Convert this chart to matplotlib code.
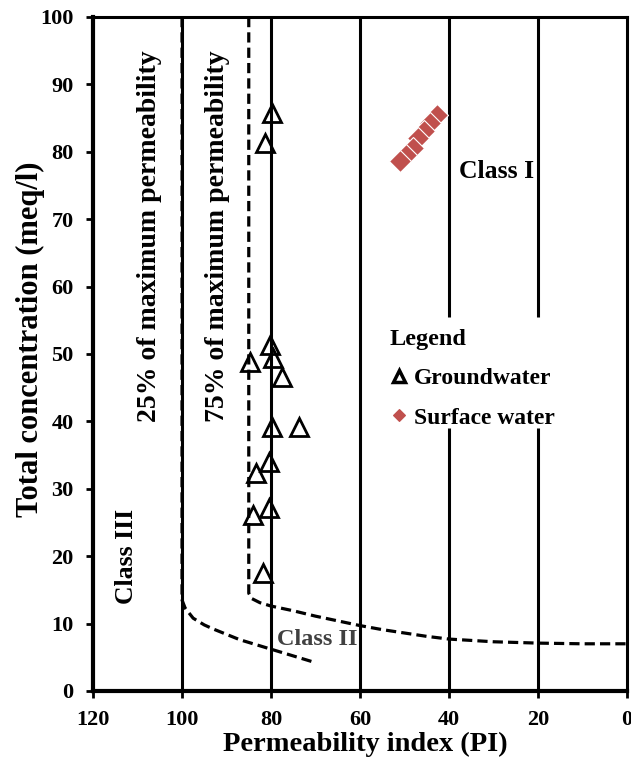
import matplotlib
matplotlib.use('Agg')
import matplotlib.pyplot as plt

plt.rcParams['font.family'] = ['Liberation Serif', 'DejaVu Serif']
plt.rcParams['font.weight'] = 'bold'

# groundwater samples: permeability index (PI) vs total concentration (meq/l)
gw_pi = [79.8, 81.3, 80.2, 84.7, 79.6, 77.5, 79.8, 73.7, 80.4, 83.4, 80.4, 84.0, 81.8]
gw_tc = [85.8, 81.3, 51.3, 48.8, 49.4, 46.6, 39.2, 39.2, 34.0, 32.3, 27.1, 26.1, 17.5]

# surface water samples
sw_pi = [42.8, 44.2, 45.6, 46.9, 48.2, 49.6, 51.0]
sw_tc = [85.4, 84.3, 83.1, 82.0, 80.6, 79.5, 78.6]

# Doneen boundaries: 25% and 75% of maximum permeability
curve25_pi = [100, 100, 99.3, 97.5, 95, 93, 90, 87, 84, 81, 77, 73.5, 70]
curve25_tc = [100, 13.5, 12.3, 10.8, 9.8, 9.2, 8.4, 7.6, 7.0, 6.4, 5.6, 4.9, 4.2]
curve75_pi = [85, 85, 84.3, 82.5, 80, 75, 70, 65, 60, 55, 50, 45, 40, 30, 20, 10, 0]
curve75_tc = [100, 14.5, 13.7, 13.1, 12.6, 11.9, 11.1, 10.4, 9.7, 9.1, 8.6, 8.1, 7.7, 7.3, 7.1, 7.0, 7.0]

# vertical grid segments (broken behind the legend)
grid_x = [100, 80, 60, 40, 40, 20, 20]
grid_lo = [0, 0, 0, 0, 55.5, 0, 55.5]
grid_hi = [100, 100, 100, 39, 100, 39, 100]

RED = '#C0504D'

fig = plt.figure(figsize=(6.31, 7.68), dpi=100)
ax = fig.add_axes([0.1474, 0.1003, 0.8463, 0.8776])

ax.vlines(grid_x, grid_lo, grid_hi, colors='black', linewidth=2.2, zorder=2)
ax.plot(curve25_pi, curve25_tc, color='black', linewidth=2.3, dashes=(3.2, 1.6), zorder=1)
ax.plot(curve75_pi, curve75_tc, color='black', linewidth=2.3, dashes=(3.2, 1.6), zorder=1)

gw, = ax.plot(gw_pi, gw_tc, ls='none', marker='^', ms=13, mfc='none', mec='black',
              mew=2, label='Groundwater', zorder=4)
sw, = ax.plot(sw_pi, sw_tc, ls='none', marker='D', ms=11.5, mfc=RED, mec='white',
              mew=0.8, label='Surface water', zorder=4)

ax.set_xlim(120, 0)
ax.set_ylim(0, 100)
ax.set_xticks(range(0, 121, 20))
ax.set_yticks(range(0, 101, 10))
ax.tick_params(direction='out', length=5, width=2, labelsize=16, pad=9)

for s in ax.spines.values():
    s.set_linewidth(2.2)
ax.spines['left'].set_linewidth(3)
ax.spines['bottom'].set_linewidth(3)

ax.set_xlabel('Permeability index (PI)', fontsize=20.5, fontweight='bold')
ax.xaxis.set_label_coords(0.51, -0.06)
ax.set_ylabel('Total concentration (meq/l)', fontsize=22, fontweight='bold')
ax.yaxis.set_label_coords(-0.09, 0.522)

ax.text(107.2, 67.5, '25% of maximum permeability', rotation=90, ha='center', va='center',
        fontsize=20, fontweight='bold')
ax.text(92.1, 67.5, '75% of maximum permeability', rotation=90, ha='center', va='center',
        fontsize=20, fontweight='bold')
ax.text(112.4, 19.9, 'Class III', rotation=90, ha='center', va='center',
        fontsize=18.5, fontweight='bold')
ax.text(29.4, 77.0, 'Class I', ha='center', va='center', fontsize=18.5, fontweight='bold')
ax.text(69.7, 7.6, 'Class II', ha='center', va='center', fontsize=17.5, fontweight='bold',
        color='#404040')

leg = ax.legend(handles=[gw, sw], title='Legend', loc='upper left',
                bbox_to_anchor=(0.556, 0.537), frameon=False, borderpad=0,
                borderaxespad=0, handlelength=0.8, handletextpad=0.2, labelspacing=0.75,
                prop={'size': 17, 'weight': 'bold'},
                title_fontproperties={'size': 17.5, 'weight': 'bold'}, alignment='left')
leg.legend_handles[0].set_markersize(9)
leg.legend_handles[0].set_markeredgewidth(2.5)
leg.legend_handles[1].set_markersize(6)
leg.legend_handles[1].set_markeredgecolor(RED)

fig.savefig('out.png', dpi=100)
